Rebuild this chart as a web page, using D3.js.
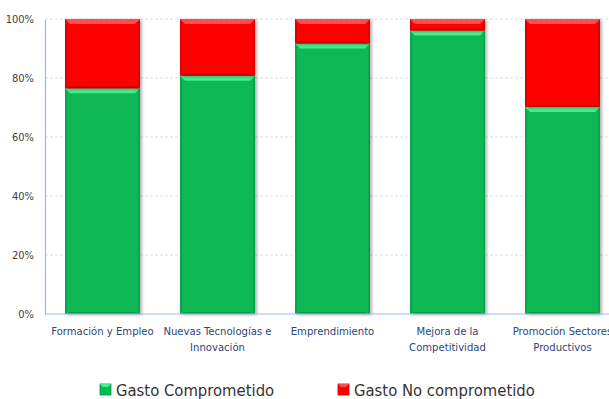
<!DOCTYPE html>
<html>
<head>
<meta charset="utf-8">
<script src="https://cdn.jsdelivr.net/npm/d3@7"></script>
<style>
  html, body { margin: 0; padding: 0; background: #fff; }
  svg { display: block; }
  text { font-family: "Liberation Sans Narrow", "DejaVu Sans Condensed", "Roboto", sans-serif; }
</style>
</head>
<body>
<svg id="chart" width="609" height="399"></svg>
<script>
// Programme lines
const categories = [
  ["Formación y Empleo"],
  ["Nuevas Tecnologías e", "Innovación"],
  ["Emprendimiento"],
  ["Mejora de la", "Competitividad"],
  ["Promoción Sectores", "Productivos"]
];
// Share of spending (%)
const comprometido   = [76.5, 80.8, 91.7, 96.1, 70.2];
const noComprometido = [23.5, 19.2, 8.3, 3.9, 29.8];
const seriesNames = ["Gasto Comprometido", "Gasto No comprometido"];
const yTicks = [0, 20, 40, 60, 80, 100];

const svg = d3.select("#chart");
const margin = { left: 45, right: -11, top: 19, bottom: 85 };
const W = 609, H = 399;

const x = d3.scaleBand()
  .domain(d3.range(categories.length))
  .range([margin.left, W - margin.right])
  .paddingInner(0.348)
  .paddingOuter(0.174);

const y = d3.scaleLinear().domain([0, 100]).range([H - margin.bottom, margin.top]);

// Drop shadow for bars
const defs = svg.append("defs");
const f = defs.append("filter").attr("id", "shadow")
  .attr("x", "-10%").attr("y", "-10%").attr("width", "130%").attr("height", "130%");
f.append("feDropShadow").attr("dx", 2).attr("dy", 1).attr("stdDeviation", 1.5)
  .attr("flood-color", "#000").attr("flood-opacity", 0.3);

// Gridlines
svg.append("g")
  .selectAll("line")
  .data(yTicks.filter(d => d > 0))
  .join("line")
  .attr("x1", margin.left).attr("x2", W)
  .attr("y1", d => y(d)).attr("y2", d => y(d))
  .attr("stroke", "#d3e0f2").attr("stroke-width", 1)
  .attr("stroke-dasharray", "3,2");

// Y axis
const yAxis = d3.axisLeft(y).tickValues(yTicks).tickFormat(d => d + "%").tickSize(0).tickPadding(11);
const gy = svg.append("g").attr("transform", `translate(${margin.left},0)`).call(yAxis);
gy.select(".domain").attr("stroke", "#9dbbe0").attr("stroke-width", 1.2);
gy.selectAll("text").attr("fill", "#404040").style("font-size", "11px");

// Stacked bars
const palette = [
  { base: "#0ab854", light: "#45ee8f", dark: "#079a45" },
  { base: "#ff0000", light: "#ff4d4d", dark: "#c40000" }
];
const stackData = categories.map((c, i) => ({ i, v0: comprometido[i], v1: noComprometido[i] }));
const stack = d3.stack().keys(["v0", "v1"])(stackData);

const bev = 5;
stack.forEach((layer, si) => {
  const col = palette[si];
  const g = svg.append("g");
  layer.forEach(seg => {
    const i = seg.data.i;
    const x0 = x(i), bw = x.bandwidth();
    const yTop = y(seg[1]), yBot = y(seg[0]);
    const h = yBot - yTop;
    const sg = g.append("g");
    sg.append("rect")
      .attr("x", x0).attr("y", yTop).attr("width", bw).attr("height", h)
      .attr("fill", col.base).attr("filter", "url(#shadow)");
    // top bevel
    sg.append("polygon")
      .attr("points", [[x0, yTop], [x0 + bw, yTop], [x0 + bw - bev, yTop + bev], [x0 + bev, yTop + bev]].join(" "))
      .attr("fill", col.light);
    // bottom bevel
    sg.append("polygon")
      .attr("points", [[x0, yBot], [x0 + bw, yBot], [x0 + bw - bev, yBot - 2], [x0 + bev, yBot - 2]].join(" "))
      .attr("fill", col.dark);
    // side bevels
    sg.append("polygon")
      .attr("points", [[x0, yTop], [x0 + 2, yTop + bev], [x0 + 2, yBot - 2], [x0, yBot]].join(" "))
      .attr("fill", col.dark).attr("opacity", 0.6);
    sg.append("polygon")
      .attr("points", [[x0 + bw, yTop], [x0 + bw - 2, yTop + bev], [x0 + bw - 2, yBot - 2], [x0 + bw, yBot]].join(" "))
      .attr("fill", col.dark).attr("opacity", 0.6);
  });
});

// X axis baseline
svg.append("line")
  .attr("x1", margin.left).attr("x2", W)
  .attr("y1", y(0)).attr("y2", y(0))
  .attr("stroke", "#9dbbe0").attr("stroke-width", 1.2);

// Category labels
const gx = svg.append("g");
categories.forEach((lines, i) => {
  const t = gx.append("text")
    .attr("x", x(i) + x.bandwidth() / 2)
    .attr("y", y(0) + 21)
    .attr("text-anchor", "middle")
    .attr("fill", "#2b4677")
    .style("font-size", "11.2px");
  lines.forEach((ln, k) => {
    t.append("tspan").attr("x", x(i) + x.bandwidth() / 2).attr("dy", k === 0 ? 0 : 15.5).text(ln);
  });
});

// Legend
const legendX = [100, 338];
const legend = svg.append("g");
seriesNames.forEach((name, k) => {
  const col = palette[k];
  const lx = legendX[k], ly = 384;
  legend.append("rect").attr("x", lx).attr("y", ly).attr("width", 11).attr("height", 11)
    .attr("fill", col.base).attr("stroke", col.dark).attr("stroke-width", 0.8);
  legend.append("polygon")
    .attr("points", [[lx, ly], [lx + 11, ly], [lx + 8, ly + 3], [lx + 3, ly + 3]].join(" "))
    .attr("fill", col.light);
  legend.append("text").attr("x", lx + 16).attr("y", ly + 11.5)
    .attr("fill", "#333").style("font-size", "16.5px").text(name);
});
</script>
</body>
</html>
